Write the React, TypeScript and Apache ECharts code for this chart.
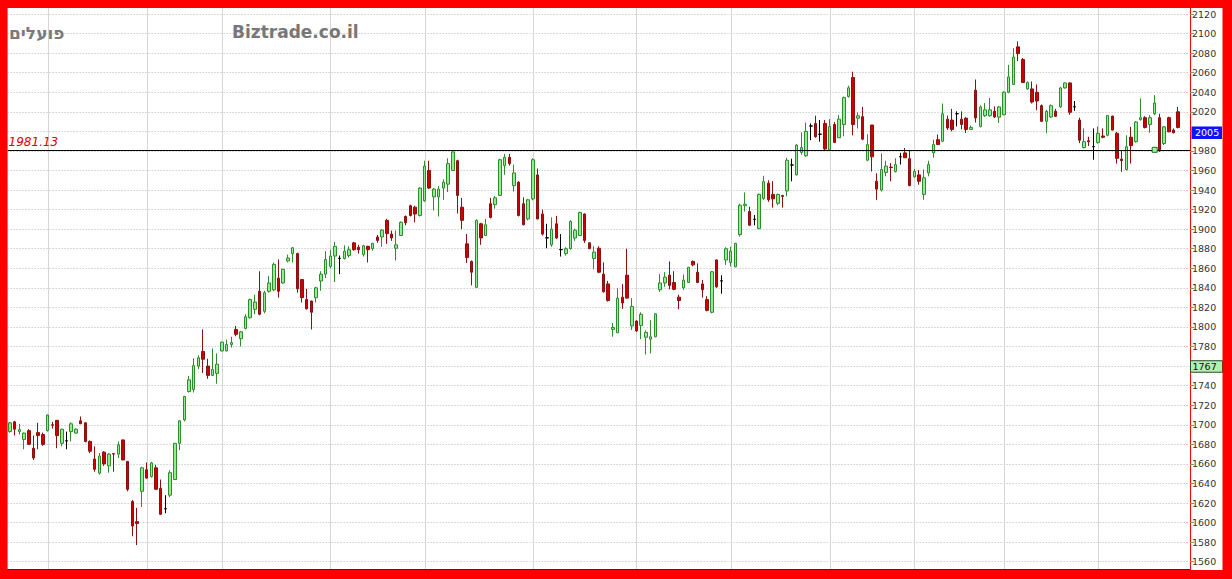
import React, { useEffect, useRef } from "react";
import * as echarts from "echarts";

// ---- data ----
const opens = [
  1693, 1703, 1693, 1685, 1694, 1676, 1692, 1690, 1694, 1700,
  1704.5, 1681, 1683.6, 1693, 1691.5, 1704, 1702, 1683, 1665, 1650.5,
  1672, 1658, 1670.5, 1670, 1684.5, 1662.5, 1621.5, 1601, 1632, 1654,
  1647, 1656, 1635, 1614.2, 1628, 1644, 1681, 1705, 1734, 1736,
  1760, 1775, 1760, 1750.5, 1752.5, 1775.5, 1775.5, 1782, 1797.5, 1788,
  1798.5, 1809.5, 1818, 1836.5, 1816, 1836.5, 1838, 1850, 1845, 1867.5,
  1875, 1875, 1848.5, 1828, 1826.5, 1830, 1847, 1854, 1862, 1872.5,
  1870.2, 1870, 1873, 1886, 1881.5, 1874, 1882.5, 1880, 1892, 1892,
  1909, 1895, 1880.5, 1893.5, 1913, 1924, 1922.5, 1914, 1929, 1960,
  1933, 1933, 1942, 1946, 1960, 1970, 1922.5, 1885, 1867, 1840.5,
  1905.5, 1893.5, 1926, 1925, 1934.5, 1965, 1973.5, 1944.5, 1948, 1926,
  1910.5, 1931, 1955.5, 1915.5, 1891.2, 1884, 1905.5, 1879.2, 1875, 1880,
  1891, 1893.5, 1915.5, 1886, 1870, 1880.5, 1854, 1844, 1797.5, 1794,
  1830.5, 1853, 1801, 1806, 1801.5, 1789.5, 1787.5, 1790, 1838, 1845,
  1853, 1845.5, 1830.5, 1840, 1845.5, 1867, 1856, 1844, 1828, 1815,
  1868.5, 1847.2, 1868.5, 1866, 1861.5, 1894.5, 1924, 1918, 1910.2, 1900.5,
  1931.5, 1947, 1935.5, 1926.5, 1934.5, 1939, 1965.7, 1955.5, 1978.5, 1975,
  2005.6, 2008, 1997.2, 2008, 1981, 2007, 1993.5, 2007, 2035.5, 2055,
  2013.5, 2015, 1970.5, 2006.5, 1949, 1940, 1958, 1963.5, 1959, 1974.1,
  1978, 1972, 1953.5, 1955.5, 1935.5, 1957.5, 1978, 1991.5, 1990, 2012.5,
  2011.5, 2018.1, 2012.5, 2013.5, 2002, 2042, 2005, 2016, 2016, 2020.5,
  2014.5, 2017, 2040, 2048, 2086.4, 2073.4, 2043.4, 2043.4, 2040, 2026.3,
  2010.3, 2014.7, 2020.5, 2025, 2044.4, 2049.5, 2025.1, 2011.6, 1983.5, 1990.4,
  1984.4, 1988.7, 1995.3, 1996, 2015.6, 1998, 1971.7, 1961, 1994, 1989.4,
  2012, 2014, 2007, 2018, 2014, 1987.6, 2014, 2001.3, 2020,
];
const closes = [
  1702, 1695.5, 1695, 1691.5, 1680, 1666, 1689, 1680, 1710, 1699.5,
  1689, 1695.5, 1683.4, 1701, 1695.5, 1701, 1683, 1673, 1654.5, 1668,
  1660, 1670, 1670, 1679.5, 1664, 1634, 1596.5, 1599, 1656, 1645.5,
  1661, 1634, 1608.5, 1614, 1651, 1681, 1704, 1729, 1746, 1760.5,
  1768.5, 1767, 1750.5, 1756.5, 1762, 1784.5, 1782, 1784, 1792.5, 1795,
  1810.5, 1828, 1825.5, 1813, 1835, 1845, 1864, 1836.5, 1859, 1870.5,
  1881, 1839, 1830, 1818.5, 1815, 1840, 1854, 1869, 1872.5, 1882.5,
  1870, 1877.5, 1879, 1879, 1879, 1883, 1879, 1885.5, 1888.5, 1899,
  1895.5, 1891, 1884, 1907, 1906.5, 1914, 1915.5, 1942, 1964.5, 1942,
  1941, 1941, 1948, 1967, 1979, 1934.5, 1909, 1871, 1856, 1909,
  1891, 1904.5, 1912, 1932, 1971, 1973.5, 1967, 1957.5, 1914, 1904.5,
  1930, 1971, 1910.5, 1895, 1891, 1900, 1891, 1879, 1880, 1908,
  1899, 1917, 1888.5, 1880, 1876.5, 1856, 1836, 1827, 1799.5, 1829.5,
  1824.5, 1829.5, 1821, 1796, 1813, 1794.5, 1790, 1813.5, 1845, 1851,
  1842.5, 1838.5, 1827, 1848, 1861, 1863.5, 1845.5, 1838, 1817, 1856.5,
  1841, 1847, 1880, 1877.5, 1885.5, 1924.5, 1925.5, 1904, 1910, 1935.5,
  1948.5, 1930, 1931, 1935.5, 1933.5, 1970.5, 1965.5, 1986, 1983.5, 2000,
  2005.4, 1994.5, 1997, 1982, 2005, 1988.7, 2012.5, 2034.5, 2044.5, 2007,
  2016, 1992, 1986.5, 1974, 1941, 1961, 1964.5, 1963, 1966, 1974,
  1973, 1944.5, 1959, 1949, 1952.5, 1966, 1986.5, 1986.5, 2018, 2003.5,
  2002, 2018, 2007, 2002, 2004, 2013.7, 2025, 2022, 2022, 2014.7,
  2025, 2040, 2055.7, 2076, 2079.5, 2050, 2050, 2030, 2031, 2010.3,
  2020.5, 2026.3, 2015.4, 2044.4, 2049.5, 2019.5, 2025, 1991, 1989.5, 1989.4,
  1984.3, 1998, 1994, 2016.3, 2001.3, 1972.4, 1970, 1984.3, 1985.4, 2009.6,
  2014, 2004, 2014, 2029, 1980, 2004.6, 1999.6, 1998.6, 2004,
];
const lows = [
  1692, 1689, 1690, 1675, 1679.5, 1664, 1675, 1678.5, 1693, 1696,
  1676, 1678, 1675, 1683, 1691, 1701, 1682, 1671, 1652, 1649,
  1658, 1651, 1652, 1666, 1664, 1632, 1586, 1577, 1616, 1645,
  1646, 1634, 1608, 1609.5, 1626, 1644, 1674, 1703.5, 1733, 1733,
  1757, 1753, 1747, 1750, 1742, 1775, 1775, 1779, 1790.5, 1780,
  1797.5, 1808.5, 1813, 1812, 1814, 1835, 1836.5, 1830, 1844, 1866,
  1866, 1835, 1825, 1818, 1797.5, 1825, 1837, 1850, 1860, 1846,
  1854, 1869, 1871, 1878, 1875, 1872, 1866, 1878, 1886, 1882,
  1885, 1888, 1868, 1893, 1904, 1913, 1907, 1913, 1928, 1941,
  1919, 1913, 1930, 1938, 1960, 1916, 1900, 1865.5, 1842.5, 1840,
  1884, 1893, 1911, 1921, 1934, 1955.5, 1965, 1938.5, 1913, 1904,
  1909, 1929.5, 1910, 1893.5, 1880.5, 1882, 1890, 1872, 1873, 1879,
  1888, 1893, 1886, 1880, 1859, 1855, 1835, 1826, 1790, 1794,
  1818.5, 1829, 1797, 1795, 1787.5, 1772, 1773, 1789.5, 1836, 1841,
  1838.5, 1837.5, 1818, 1838, 1845, 1862, 1845, 1830, 1816, 1814,
  1840, 1834, 1863.5, 1862, 1861, 1892.5, 1918, 1903.5, 1904, 1900,
  1930, 1928, 1922, 1924.5, 1922, 1933.5, 1949, 1955, 1976, 1974,
  1991, 1993.5, 1989.4, 1981, 1981, 1988, 1993, 1995, 2034.5, 1996,
  2003, 1991, 1969.5, 1959, 1930, 1938.5, 1954, 1949, 1958, 1966,
  1973, 1944, 1952.5, 1945.5, 1930, 1954, 1973, 1986, 1989, 2001.5,
  2000, 2005, 2002, 1998.5, 2001.5, 2009, 2004, 2014.7, 2015, 2013.7,
  2008.6, 2016.5, 2039, 2047.5, 2071.7, 2049.5, 2042.7, 2028.5, 2021.6, 2009.5,
  1998, 2013.7, 2014.7, 2024, 2043.7, 2017, 2021, 1988, 1982.5, 1985,
  1971, 1987.5, 1993, 1995, 2001, 1967, 1958.7, 1960, 1967, 1988.5,
  2011, 2003, 1998.6, 2016.5, 1979, 1986, 1999, 1998, 2003,
];
const highs = [
  1703, 1704, 1701, 1692, 1695.5, 1689, 1702, 1692, 1710.5, 1703,
  1705, 1696, 1693, 1702.5, 1696.5, 1708.5, 1702.5, 1684, 1678, 1671,
  1673, 1671, 1671, 1683, 1685, 1663, 1623, 1615, 1657, 1661.5,
  1662, 1659, 1644, 1628, 1653.5, 1681.5, 1704.5, 1729.5, 1750, 1768,
  1771, 1797.5, 1767.5, 1778, 1773, 1785, 1787, 1790, 1801, 1796,
  1813, 1829, 1833, 1857, 1837, 1852, 1866, 1869, 1859.5, 1874,
  1881.5, 1876, 1849, 1839, 1827, 1841, 1857, 1877.5, 1879, 1887,
  1873, 1883.5, 1882.5, 1887, 1884, 1884, 1883, 1886, 1894, 1900,
  1910.5, 1898.5, 1898.6, 1908, 1914, 1925, 1924, 1943, 1970, 1970,
  1942, 1944, 1951, 1972.5, 1980, 1971, 1932, 1895, 1868, 1910,
  1906.5, 1910.5, 1932, 1934, 1972, 1977, 1977, 1966, 1949, 1932.5,
  1931, 1972.5, 1962, 1920, 1905.5, 1912, 1913.5, 1895, 1881.5, 1909,
  1900.5, 1918, 1916, 1886.5, 1882.5, 1882.5, 1866, 1847, 1804, 1839.5,
  1844, 1880, 1829.5, 1807, 1815, 1796.5, 1807, 1814, 1854, 1856,
  1867, 1857, 1833, 1853.5, 1861.5, 1868, 1865, 1848, 1831.5, 1857,
  1869, 1853, 1881.5, 1882, 1886, 1926, 1937.5, 1923, 1914.5, 1936.5,
  1954.5, 1950, 1949, 1936.5, 1935, 1973, 1972, 1987, 1999, 2009,
  2008, 2016, 2011.6, 2011.6, 2012.6, 2009.5, 2016.7, 2035.5, 2046.7, 2061,
  2019.4, 2025, 1997, 2006.5, 1957, 1977.5, 1970, 1967.6, 1972.5, 1978,
  1983, 1981, 1961.5, 1960.5, 1961, 1970, 1991.6, 1996.7, 2028.4, 2016,
  2023, 2020.5, 2020.5, 2014.5, 2006, 2053, 2026.5, 2029, 2034, 2025.5,
  2026, 2041, 2068, 2085, 2092, 2075, 2051, 2051, 2048, 2027.5,
  2022, 2027.5, 2023, 2045.5, 2050, 2050, 2031, 2014, 2003, 1994.5,
  2003, 2005, 2003, 2016.5, 2016, 1999.5, 1980.6, 1996, 2004.6, 2010.5,
  2033.7, 2015.5, 2016.5, 2037, 2018, 2005.5, 2015, 2003, 2025,
];
// candle indices (0-based) where a month starts -> vertical grid lines
const monthStarts = [8, 29, 45, 68, 88, 111, 133, 153, 174, 192, 211, 231];
const slotCount = 251; // 249 candles + 2 empty slots at the right
const refLevel = 1981.13;
const markerIndex = 243;
const lastLabel = 2005;
const greenLabel = 1767;
const hiddenTickLabels = [2000, 1760]; // covered by the value boxes in the reference
const labelRange = [1560, 2120]; // tick labels shown inside the frame
const yTicksMin = 1540;
const yTicksMax = 2140;
const yStep = 20;
const title = "פועלים";
const watermark = "Biztrade.co.il";

const FONT = "DejaVu Sans";
const OFF = 20; // chart canvas is shifted up by this many px inside a clipping box

export default function App() {
  const ref = useRef<HTMLDivElement>(null);

  useEffect(() => {
    document.body.style.margin = "0";
    if (!ref.current) return;
    const chart = echarts.init(ref.current, undefined, { renderer: "svg" });

    const cats = Array.from({ length: slotCount }, (_, i) => `D${i + 1}`);
    const candles = opens.map((o, i) => {
      const c = closes[i];
      const l = Math.min(lows[i], o, c);
      const h = Math.max(highs[i], o, c);
      const item: any = { value: [o, c, l, h] };
      if (Math.abs(o - c) < 0.3) {
        item.itemStyle = {
          color: "#000",
          color0: "#000",
          borderColor: "#000",
          borderColor0: "#000",
        };
      }
      return item;
    });

    chart.setOption({
      animation: false,
      grid: { left: 7.6, right: 42, top: OFF - 5.56, bottom: 620 - (581.26 + OFF), containLabel: false },
      xAxis: {
        type: "category",
        data: cats,
        boundaryGap: true,
        axisLine: { show: false },
        axisTick: { show: false },
        axisLabel: { show: false },
        splitLine: { show: false },
      },
      yAxis: {
        type: "value",
        position: "right",
        min: yTicksMin,
        max: yTicksMax,
        interval: yStep,
        axisLine: { show: true, lineStyle: { color: "#ff0000", width: 1 } },
        axisTick: { show: true, length: 4, lineStyle: { color: "#888" } },
        axisLabel: {
          color: "#333",
          fontFamily: FONT,
          fontSize: 9.5,
          margin: 2,
          formatter: (v: number) =>
            hiddenTickLabels.includes(v) || v < labelRange[0] || v > labelRange[1] ? "" : String(v),
        },
        splitLine: {
          show: true,
          lineStyle: { color: "#b8b8b8", type: [1, 2], width: 1 },
        },
      },
      series: [
        {
          type: "custom",
          silent: true,
          z: 1,
          data: monthStarts.map((i) => [i]),
          encode: { x: 0 },
          renderItem: (params: any, api: any) => {
            const x = Math.round(api.coord([api.value(0), yTicksMin])[0]) + 0.5;
            const cs = params.coordSys;
            return {
              type: "line",
              shape: { x1: x, y1: cs.y, x2: x, y2: cs.y + cs.height },
              style: { stroke: "#d6d6d6", lineWidth: 1 },
            };
          },
        },
        {
          type: "candlestick",
          z: 3,
          barWidth: 3,
          data: candles,
          itemStyle: {
            color: "#90ee90",
            color0: "#cc0000",
            borderColor: "#2e8b2e",
            borderColor0: "#8b1010",
            borderWidth: 1,
          },
          markLine: {
            silent: true,
            symbol: ["none", "none"],
            lineStyle: { color: "#000", width: 1, type: "solid" },
            label: {
              show: true,
              position: "insideStartTop",
              distance: [1, 2],
              formatter: String(refLevel),
              color: "#e00000",
              fontStyle: "italic",
              fontFamily: FONT,
              fontSize: 12,
            },
            data: [{ yAxis: refLevel }],
          },
          markPoint: {
            silent: true,
            data: [
              {
                coord: [cats[markerIndex], refLevel],
                symbol: "rect",
                symbolSize: [5, 5],
                itemStyle: { color: "#a8f0a8", borderColor: "#1e6e1e", borderWidth: 1 },
                label: { show: false },
              },
            ],
          },
        },
      ],
    });

    const yLast = chart.convertToPixel({ yAxisIndex: 0 }, lastLabel) as number;
    const yGreen = chart.convertToPixel({ yAxisIndex: 0 }, greenLabel) as number;

    chart.setOption({
      graphic: [
        // titles
        {
          type: "text",
          left: 9,
          top: OFF + 24,
          z: 50,
          style: {
            text: title,
            font: `bold 17px "${FONT}"`,
            fill: "#7a7a7a",
          },
        },
        {
          type: "text",
          left: 232,
          top: OFF + 23,
          z: 50,
          style: {
            text: watermark,
            font: `bold 17px "${FONT}"`,
            fill: "#777",
          },
        },
        // value boxes on the right axis
        {
          type: "rect",
          z: 60,
          shape: { x: 1191.5, y: yLast, width: 30.5, height: 12.5 },
          style: { fill: "#0a14ff" },
        },
        {
          type: "text",
          z: 61,
          x: 1195,
          y: yLast + 6.5,
          style: {
            text: String(lastLabel),
            font: `9.5px "${FONT}"`,
            fill: "#fff",
            textVerticalAlign: "middle",
          },
        },
        {
          type: "rect",
          z: 60,
          shape: { x: 1190.5, y: yGreen + 1.5, width: 32, height: 11.5 },
          style: { fill: "#b0f0b0", stroke: "#2a4a2a", lineWidth: 1 },
        },
        {
          type: "text",
          z: 61,
          x: 1192.5,
          y: yGreen + 7.5,
          style: {
            text: String(greenLabel),
            font: `9.5px "${FONT}"`,
            fill: "#111",
            textVerticalAlign: "middle",
          },
        },
        // bottom axis line
        {
          type: "line",
          z: 90,
          shape: { x1: 7, y1: OFF + 569.5, x2: 1190, y2: OFF + 569.5 },
          style: { stroke: "#5a1a1a", lineWidth: 1 },
        },
        // red frame
        { type: "rect", z: 100, shape: { x: 0, y: 0, width: 1232, height: OFF + 8 }, style: { fill: "#ff0000" } },
        { type: "rect", z: 100, shape: { x: 0, y: 0, width: 7.6, height: 620 }, style: { fill: "#ff0000" } },
        { type: "rect", z: 100, shape: { x: 1222.5, y: 0, width: 9.5, height: 620 }, style: { fill: "#ff0000" } },
        { type: "rect", z: 100, shape: { x: 0, y: OFF + 570, width: 1232, height: 50 }, style: { fill: "#ff0000" } },
      ],
    });

    return () => {
      chart.dispose();
    };
  }, []);

  return (
    <div style={{ position: "relative", width: 1232, height: 579, overflow: "hidden", background: "#fff" }}>
      <div ref={ref} style={{ position: "absolute", left: 0, top: -OFF, width: 1232, height: 620 }} />
    </div>
  );
}
